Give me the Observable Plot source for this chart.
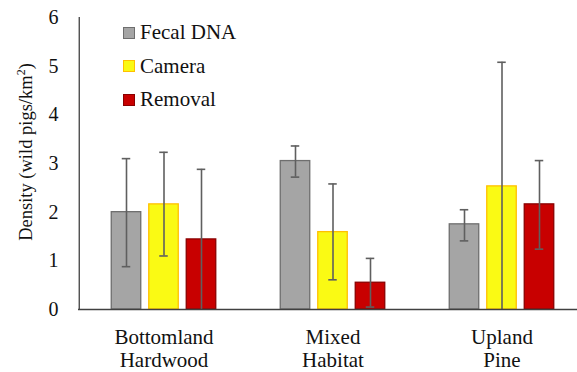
<!DOCTYPE html>
<html>
<head>
<meta charset="utf-8">
<script src="https://cdn.jsdelivr.net/npm/d3@7"></script>
<script src="https://cdn.jsdelivr.net/npm/@observablehq/plot@0.6"></script>
<style>
  html, body { margin: 0; padding: 0; background: #fff; }
</style>
</head>
<body>
<div id="chart" style="position:relative;width:577px;height:372px;overflow:hidden;"></div>
<script>
const groups = ["Bottomland\nHardwood", "Mixed\nHabitat", "Upland\nPine"];
const series = ["Fecal DNA", "Camera", "Removal"];
const fecal  = [2.00, 3.05, 1.75];
const fecalLo = [0.88, 2.72, 1.41];
const fecalHi = [3.10, 3.36, 2.05];
const camera = [2.16, 1.59, 2.53];
const cameraLo = [1.10, 0.61, 0.00];
const cameraHi = [3.23, 2.58, 5.08];
const removal = [1.44, 0.55, 2.16];
const removalLo = [0.00, 0.05, 1.24];
const removalHi = [2.88, 1.05, 3.06];
const yTicks = [0, 1, 2, 3, 4, 5, 6];

const SERIF = "'Liberation Serif', 'Times New Roman', serif";
const fills = ["#a5a5a5", "#fafa14", "#c80000"];
const strokes = ["#6e6e6e", "#ffc000", "#8a0000"];
const vals = [fecal, camera, removal];
const los = [fecalLo, cameraLo, removalLo];
const his = [fecalHi, cameraHi, removalHi];

const data = [];
series.forEach((s, si) => groups.forEach((g, gi) => data.push({
  group: g, series: s, si, value: vals[si][gi], lo: los[si][gi], hi: his[si][gi]
})));

const step = 37.5;
const bandW = 169.5;
const barInset = (bandW - 30) / 2;
const capInset = (bandW - 9) / 2;
const ebColor = "#5f5f5f";

const marks = [];
series.forEach((s, si) => {
  const d = data.filter(r => r.series === s);
  const dx = (si - 1) * step;
  marks.push(Plot.barY(d, {x: "group", y: "value", fill: fills[si], stroke: strokes[si], strokeWidth: 1.3,
    insetLeft: barInset, insetRight: barInset, dx}));
});
series.forEach((s, si) => {
  const d = data.filter(r => r.series === s);
  const dx = (si - 1) * step;
  marks.push(Plot.ruleX(d, {x: "group", y1: "lo", y2: "hi", stroke: ebColor, strokeWidth: 1.6, dx}));
  marks.push(Plot.tickY(d, {x: "group", y: "hi", stroke: ebColor, strokeWidth: 1.6, insetLeft: capInset, insetRight: capInset, dx}));
  marks.push(Plot.tickY(d.filter(r => r.lo > 0), {x: "group", y: "lo", stroke: ebColor, strokeWidth: 1.6, insetLeft: capInset, insetRight: capInset, dx}));
});
marks.push(Plot.ruleY([0], {stroke: "#404040", strokeWidth: 1.3}));
marks.push(Plot.ruleX([0], {x: () => groups[0], y1: 0, y2: 6, stroke: "#404040", strokeWidth: 1.3, dx: -bandW / 2}));
// y tick labels
marks.push(Plot.text(yTicks, {y: d => d, text: d => String(d), frameAnchor: "left", textAnchor: "end",
  dx: -20, fontSize: 20, fill: "#111"}));
marks.push(Plot.axisX({tickSize: 0, tickPadding: 18, fontSize: 21, label: null, fill: "#111", lineHeight: 1.1}));

const plot = Plot.plot({
  width: 577,
  height: 372,
  marginLeft: 78,
  marginRight: 0,
  marginTop: 17,
  marginBottom: 63,
  style: {fontFamily: SERIF, background: "#fff"},
  x: {domain: groups, range: [78, 78 + 3 * bandW], padding: 0},
  y: {domain: [0, 6], range: [309, 17], axis: null},
  marks
});
document.getElementById("chart").appendChild(plot);

// y-axis title
const svg = d3.select(plot);
svg.append("text")
  .attr("transform", "translate(31.5,152) rotate(-90)")
  .attr("text-anchor", "middle")
  .attr("font-size", 18.5)
  .attr("fill", "#111")
  .attr("font-family", SERIF)
  .html('Density (wild pigs/km<tspan dy="-7" font-size="12">2</tspan><tspan dy="7">)</tspan>');

// legend
const legend = d3.select("#chart").append("div")
  .style("position", "absolute").style("left", "123px").style("top", "16px")
  .style("font-family", SERIF).style("font-size", "21px").style("color", "#111");
series.forEach((s, i) => {
  const it = legend.append("div").style("display", "flex").style("align-items", "center").style("height", "33.5px");
  it.append("div").style("width", "10px").style("height", "10px").style("margin-right", "5px")
    .style("border", "1px solid " + strokes[i]).style("background", fills[i]);
  it.append("span").text(s);
});
</script>
</body>
</html>
